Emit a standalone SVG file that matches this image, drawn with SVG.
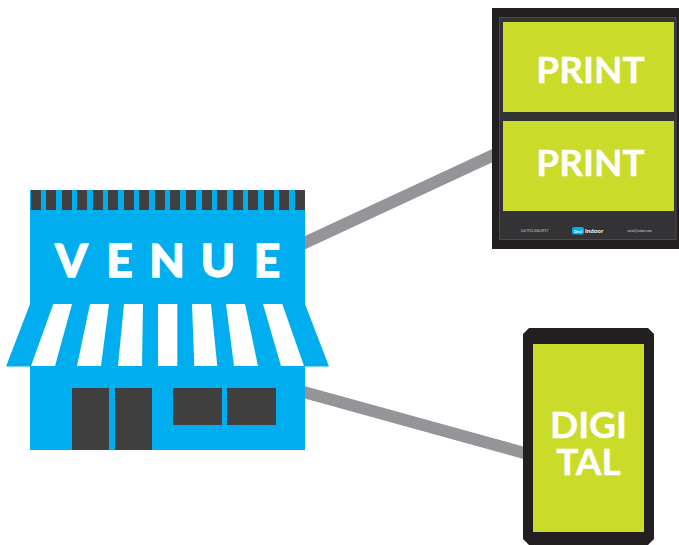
<svg xmlns="http://www.w3.org/2000/svg" width="679" height="545" viewBox="0 0 679 545">
<style>
.blue{fill:#00aeef}.dark{fill:#404040}.white{fill:#fff}.green{fill:#cbdb2a}
.link{stroke:#939598;stroke-width:12;fill:none}
text{font-family:"Lato","Liberation Sans",sans-serif;fill:#fff;font-weight:700}
.big{font-size:37px;text-anchor:middle;stroke:#fff;stroke-width:.4px}
.venue{font-size:46px;font-weight:900;stroke:#fff;stroke-width:1.300px;text-anchor:middle}
.tiny{font-size:3.400px;font-weight:400;fill:#d0d2d3;text-anchor:middle}
</style>
<g id="connectors">
<line class="link" x1="300" y1="245" x2="498" y2="153"/>
<line class="link" x1="300" y1="391" x2="528" y2="454"/>
</g>
<g id="venue">
<rect class="blue" x="30" y="190" width="275" height="260"/>
<path class="blue" d="M30 304H305L329 366.500H6Z"/>
<g class="dark">
<rect x="31" y="190" width="10" height="20"/><rect x="46" y="190" width="10" height="20"/><rect x="62" y="190" width="10" height="20"/><rect x="77" y="190" width="10" height="20"/><rect x="93" y="190" width="10" height="20"/><rect x="108" y="190" width="10" height="20"/><rect x="124" y="190" width="10" height="20"/><rect x="139" y="190" width="10" height="20"/><rect x="155" y="190" width="10" height="20"/><rect x="170" y="190" width="10" height="20"/><rect x="186" y="190" width="10" height="20"/><rect x="202" y="190" width="10" height="20"/><rect x="217" y="190" width="10" height="20"/><rect x="233" y="190" width="10" height="20"/><rect x="248" y="190" width="10" height="20"/><rect x="264" y="190" width="10" height="20"/><rect x="279" y="190" width="10" height="20"/><rect x="295" y="190" width="10" height="20"/>
<rect x="72" y="388" width="37" height="62"/><rect x="115" y="388" width="37" height="62"/>
<rect x="173" y="388" width="49" height="37"/><rect x="227" y="388" width="49" height="37"/>
</g>
<g class="white">
<path d="M53.300 304H72L55 366H31Z"/><path d="M90 304H109L101 366H77Z"/><path d="M124 304H143L142 366H118Z"/><path d="M158 304H177.300V366H158Z"/><path d="M192 304H211L217.300 366H194.300Z"/><path d="M226 304H245L258 366H234Z"/><path d="M263 304H282.300L304 366H281Z"/>
</g>
<text class="venue" x="71.500" y="276.500">V</text><text class="venue" x="119.500" y="276.500">E</text><text class="venue" x="167" y="276.500">N</text><text class="venue" x="218" y="276.500">U</text><text class="venue" x="267" y="276.500">E</text>
</g>
<g id="print">
<rect x="492" y="8" width="187" height="241" fill="#231f20"/>
<rect x="499.500" y="17.500" width="176.500" height="222" fill="#333335" stroke="#4a4a4c" stroke-width="1"/>
<rect class="green" x="503" y="22" width="171" height="90"/>
<rect class="green" x="503" y="121" width="171" height="90"/>
<text class="big" x="590.500" y="83">PRINT</text>
<text class="big" x="590.500" y="176">PRINT</text>
<text class="tiny" x="534.500" y="232">Call 912.206.0917</text>
<rect class="blue" x="572" y="227" width="12" height="7.500" rx="2"/>
<text x="578" y="232.500" font-size="4" font-weight="400" text-anchor="middle">Deal</text>
<text x="585" y="232.500" font-size="6.200">Indoor</text>
<text class="tiny" x="639.500" y="232" style="font-size:3px">social@indoor.com</text>
</g>
<g id="digital">
<path d="M529 328H648L654 334V539L648 545H529L523 539V334Z" fill="#231f20"/>
<rect class="green" x="533" y="344" width="111" height="188"/>
<text class="big"><tspan x="588.500" y="438">DIGI</tspan><tspan x="588.500" y="475">TAL</tspan></text>
</g>
</svg>
